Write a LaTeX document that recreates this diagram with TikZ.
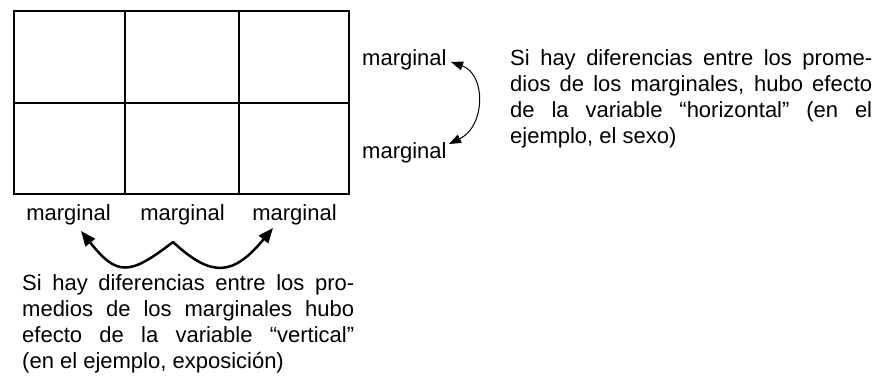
\documentclass[tikz,border=0pt]{standalone}
\usepackage{fontspec}
\setmainfont{Liberation Sans}
\usetikzlibrary{arrows.meta}
\begin{document}
\begin{tikzpicture}[x=1pt,y=-1pt,
  lbl/.style={inner sep=0pt, font=\fontsize{22}{26}\selectfont},
  para/.style={inner sep=0pt, anchor=north west, align=justify, font=\fontsize{22}{26}\selectfont},
  grid/.style={line width=1.8pt},
  thickarc/.style={line width=2.5pt, line cap=round, -{Triangle[length=15pt,width=12pt]}},
  thinarc/.style={line width=1pt, {Triangle[length=12pt,width=9pt]}-{Triangle[length=12pt,width=9pt]}}
]
\useasboundingbox (0,0) rectangle (875,381);
% table
\node[draw, line width=2.2pt, minimum width=335pt, minimum height=183pt, inner sep=0pt, anchor=north west] (tab) at (13,10) {};
\draw[grid] (tab.west) -- (tab.east);
\draw[grid] (125,10) -- (125,193);
\draw[grid] (239,10) -- (239,193);
% marginal labels
\node[lbl, anchor=base] (mb1) at (68.5,220) {marginal};
\node[lbl, anchor=base] (mb2) at (182.5,220) {marginal};
\node[lbl, anchor=base] (mb3) at (294.5,220) {marginal};
\node[lbl, anchor=base west] (mr1) at (362,65) {marginal};
\node[lbl, anchor=base west] (mr2) at (362,158) {marginal};
% arrow end points
\coordinate (cusp) at (173,242);
\coordinate (lt) at (81,231);
\coordinate (rt) at (273,228);
\coordinate (at1) at (451,62);
\coordinate (at2) at (449,144);
\draw[thickarc] (cusp) .. controls (129,276) and (117,276) .. (lt);
\draw[thickarc] (cusp) .. controls (212,278) and (233,276) .. (rt);
\draw[thinarc] (at1) .. controls (486,74) and (486,126) .. (at2);
% paragraphs
\node[para, text width=362pt] (pr) at (510,46.8) {\noindent\strut Si hay diferencias entre los prome-\linebreak dios de los marginales, hubo efecto\linebreak de la variable “horizontal” (en el\linebreak ejemplo, el sexo)};
\node[para, text width=332pt] (pb) at (22,271.8) {\noindent\strut Si hay diferencias entre los pro-\linebreak medios de los marginales hubo\linebreak efecto de la variable “vertical”\linebreak (en el ejemplo, exposición)};
\end{tikzpicture}
\end{document}
